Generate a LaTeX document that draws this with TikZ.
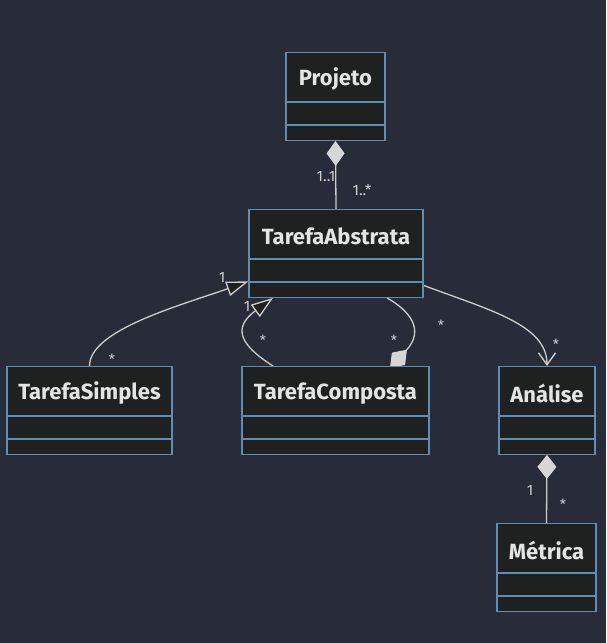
\documentclass[tikz,border=0pt]{standalone}
\usepackage{fontspec}
\setmainfont{Fira Sans}
\usetikzlibrary{arrows.meta}
\pgfdeclarelayer{bg}
\pgfdeclarelayer{edges}
\pgfsetlayers{bg,edges,main}
\definecolor{bgc}{HTML}{282C38}
\definecolor{boxfill}{HTML}{1F2020}
\definecolor{boxborder}{HTML}{5F8DB8}
\definecolor{linec}{HTML}{CCCCCC}
\definecolor{titlec}{HTML}{E4E4E4}
\definecolor{labelc}{HTML}{CFCFCF}
\definecolor{dfill}{HTML}{D6D6D6}
\tikzset{
  boxst/.style={draw=boxborder, fill=boxfill, line width=1.4pt, rectangle, inner sep=0pt, minimum height=87.5pt},
  divline/.style={draw=boxborder, line width=1.4pt},
  titlest/.style={text=titlec, font=\fontsize{22}{25}\selectfont\bfseries, inner sep=0pt},
  edge/.style={draw=linec, line width=1.3pt},
  lbl/.style={text=labelc, font=\fontsize{15}{17}\selectfont, inner sep=0pt},
  stlbl/.style={text=labelc, font=\fontsize{14}{16}\selectfont, inner sep=0pt, yshift=-3pt},
}
\newcommand{\umlbox}[5]{%
  \node[boxst, minimum width=#4pt, anchor=north] (#1) at (#2,#3) {};
  \node[titlest] (#1t) at ([yshift=-27.5pt]#1.north) {#5};
  \draw[divline] ([yshift=-50pt]#1.north west) -- ([yshift=-50pt]#1.north east);
  \draw[divline] ([yshift=-73pt]#1.north west) -- ([yshift=-73pt]#1.north east);
}
\begin{document}
\begin{tikzpicture}[x=1pt,y=-1pt]
\begin{pgfonlayer}{bg}
  \fill[bgc] (0,0) rectangle (606,643);
\end{pgfonlayer}
\useasboundingbox (0,0) rectangle (606,643);

\umlbox{P}{335.5}{52}{99}{Projeto}
\umlbox{TA}{336}{209}{174}{TarefaAbstrata}
\umlbox{TS}{89.5}{366}{165}{TarefaSimples}
\umlbox{TC}{335.5}{366}{187}{TarefaComposta}
\umlbox{An}{547}{366}{96}{Análise}
\umlbox{Me}{546.5}{523}{99}{Métrica}

\begin{pgfonlayer}{edges}
  % Projeto composition
  \draw[edge, {Diamond[length=25pt,width=18pt,fill=dfill,color=dfill]}-] (P.south) -- (TA.north);
  % TarefaSimples inheritance
  \draw[edge, -{Triangle[length=22pt,width=15pt,fill=boxfill,line join=miter]}]
    (TS.north) .. controls +(0,-36) and +(-68,24) .. ([yshift=-28pt]TA.west);
  % TarefaComposta inheritance
  \draw[edge, -{Triangle[length=22pt,width=15pt,fill=boxfill,line join=miter]}]
    ([xshift=-62.5pt]TC.north) .. controls +(-33,-21) and +(-41,30) .. ([xshift=-63pt]TA.south);
  % TarefaComposta composition
  \draw[edge, -{Diamond[length=25pt,width=18pt,fill=dfill,color=dfill]}]
    ([xshift=51pt]TA.south) .. controls +(23,13) and +(35,-38) .. ([xshift=54.5pt,yshift=-2pt]TC.north);
  % Analise association
  \draw[edge, -{Straight Barb[length=12pt,width=17pt,line width=1.4pt]}]
    ([yshift=-32pt]TA.east) .. controls +(67,25) and +(0,-41) .. (An.north);
  % Metrica composition
  \draw[edge, {Diamond[length=24pt,width=19pt,fill=dfill,color=dfill]}-] (An.south) -- (Me.north);
\end{pgfonlayer}

% multiplicity labels
\node[lbl] (l1) at (326,177) {1..1};
\node[lbl] (l2) at (362,190) {1..*};
\node[lbl] (l3) at (222,277) {1};
\node[stlbl] (l4) at (112,356) {*};
\node[lbl] (l5) at (247,306) {1};
\node[stlbl] (l6) at (263,337) {*};
\node[stlbl] (l7) at (394,337) {*};
\node[stlbl] (l8) at (441,322) {*};
\node[stlbl] (l9) at (556,341) {*};
\node[lbl] (l10) at (530,490) {1};
\node[stlbl] (l11) at (563,501) {*};
\end{tikzpicture}
\end{document}
